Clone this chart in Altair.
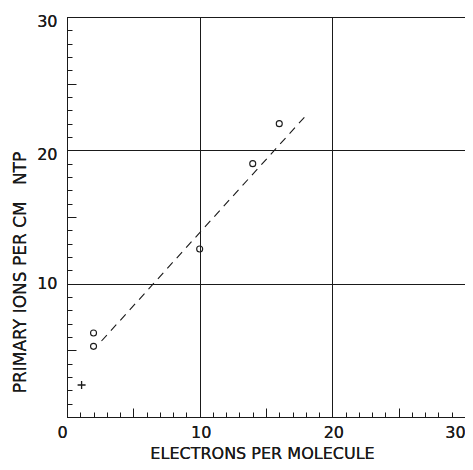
import altair as alt
import pandas as pd

# Data
pt_x = [2, 2, 10, 14, 16]
pt_y = [6.3, 5.3, 12.6, 19.0, 22.0]
plus_x = [1.1]
plus_y = [2.4]
fit_x = [2.6, 18.0]
fit_y = [5.7, 22.6]
x_major = [0, 10, 20, 30]
y_major = [10, 20, 30]
minor_ticks = list(range(0, 31))

pts = pd.DataFrame({"x": pt_x, "y": pt_y})
plus = pd.DataFrame({"x": plus_x, "y": plus_y})
fit = pd.DataFrame({"x": fit_x, "y": fit_y})

FONT = "DejaVu Sans"
INK = "#1a1a1a"
W, H = 398, 400

xscale = alt.Scale(domain=[0, 30], nice=False, zero=False)
yscale = alt.Scale(domain=[0, 30], nice=False, zero=False)

tick_size = {"condition": {"test": "datum.value % 5 === 0", "value": 9}, "value": 5}
x_label_off = {"condition": [
    {"test": "datum.value === 0", "value": -5},
    {"test": "datum.value === 30", "value": -10}], "value": 1}
y_label_off = {"condition": {"test": "datum.value === 10", "value": 0}, "value": 4}

x_main = alt.Axis(
    values=x_major, orient="bottom", grid=True, gridColor=INK, gridWidth=1,
    domain=True, domainColor=INK, ticks=False, labelPadding=7, labelFontSize=16,
    labelFont=FONT, labelColor=INK, labelFlush=False, labelOffset=x_label_off,
    title="ELECTRONS PER MOLECULE",
    titleFont=FONT, titleFontSize=16, titleFontWeight="normal", titleColor=INK,
    titleX=W / 2 - 4, titleY=41, titleBaseline="alphabetic", titleAlign="center",
)
y_main = alt.Axis(
    values=y_major, orient="left", grid=True, gridColor=INK, gridWidth=1,
    domain=True, domainColor=INK, ticks=False, labelPadding=10, labelFontSize=16,
    labelFont=FONT, labelColor=INK, labelFlush=False, labelOffset=y_label_off,
    title="PRIMARY IONS PER CM\u00a0\u00a0\u00a0NTP",
    titleFont=FONT, titleFontSize=17, titleFontWeight="normal", titleColor=INK,
    titleX=-47, titleY=255, titleBaseline="middle", titleAngle=-90,
)
x_ticks = alt.Axis(
    values=minor_ticks, orient="top", offset=-H, grid=False, domain=False,
    labels=False, ticks=True, tickColor=INK, tickSize=tick_size, title=None,
)
y_ticks = alt.Axis(
    values=minor_ticks, orient="right", offset=-W, grid=False, domain=False,
    labels=False, ticks=True, tickColor=INK, tickSize=tick_size, title=None,
)

line = alt.Chart(fit).mark_line(
    color=INK, strokeWidth=1.1, strokeDash=[8, 6]
).encode(
    x=alt.X("x:Q", scale=xscale, axis=x_main),
    y=alt.Y("y:Q", scale=yscale, axis=y_main),
)

circles = alt.Chart(pts).mark_point(
    shape="circle", filled=False, size=36, stroke=INK, strokeWidth=1.1, opacity=1
).encode(
    x=alt.X("x:Q", scale=xscale, axis=x_main),
    y=alt.Y("y:Q", scale=yscale, axis=y_main),
)

plus_mark = alt.Chart(plus).mark_point(
    shape="M -1 0 L 1 0 M 0 -1 L 0 1", filled=False, size=64, stroke=INK,
    strokeWidth=1.3, opacity=1
).encode(
    x=alt.X("x:Q", scale=xscale, axis=x_ticks),
    y=alt.Y("y:Q", scale=yscale, axis=y_ticks),
)

chart = alt.layer(line, circles, plus_mark).properties(
    width=W, height=H,
    autosize=alt.AutoSizeParams(type="none"),
    padding={"left": 59, "top": 9, "right": 0, "bottom": 45},
).configure_view(stroke=INK, strokeWidth=1).configure(background="white")

chart.save("out.html", embed_options={"renderer": "svg", "actions": False})
